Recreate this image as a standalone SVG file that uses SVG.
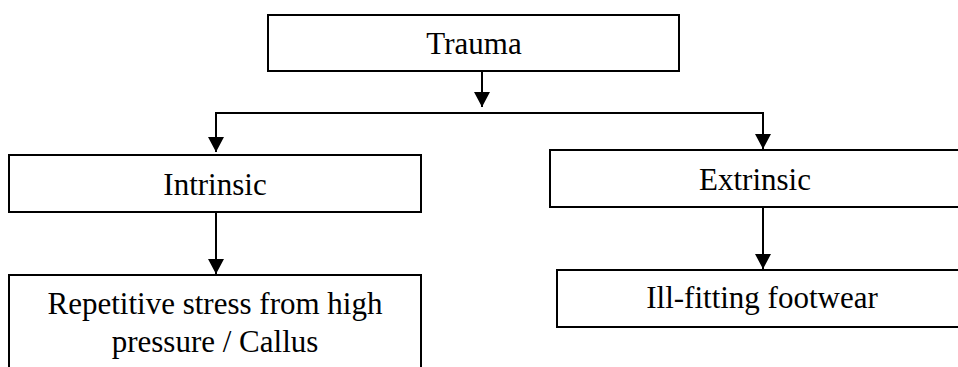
<svg xmlns="http://www.w3.org/2000/svg" width="958" height="367" viewBox="0 0 958 367">
  <style>
    .box { fill: #ffffff; stroke: #000000; stroke-width: 2; }
    .label { font-family: "Liberation Serif", "Times New Roman", serif; font-size: 31px; fill: #000000; text-anchor: middle; }
    .wire { fill: none; stroke: #000000; stroke-width: 2; }
  </style>
  <defs>
    <marker id="arrow" markerUnits="userSpaceOnUse" markerWidth="16" markerHeight="16" viewBox="0 0 16 16" refX="15" refY="8" orient="auto">
      <path d="M0,0 L15,8 L0,16 Z" fill="#000000"/>
    </marker>
  </defs>

  <rect width="958" height="367" fill="#ffffff"/>

  <g id="connectors">
    <line class="wire" x1="482" y1="71" x2="482" y2="107" marker-end="url(#arrow)"/>
    <polyline class="wire" points="216,151 216,113 763,113 763,148" />
    <line class="wire" x1="216" y1="113" x2="216" y2="152" marker-end="url(#arrow)"/>
    <line class="wire" x1="763" y1="113" x2="763" y2="149" marker-end="url(#arrow)"/>
    <line class="wire" x1="216" y1="212" x2="216" y2="274" marker-end="url(#arrow)"/>
    <line class="wire" x1="763" y1="207" x2="763" y2="269" marker-end="url(#arrow)"/>
  </g>

  <g id="trauma">
    <rect class="box" x="268" y="15" width="411" height="56"/>
    <text class="label" x="474" y="54">Trauma</text>
  </g>

  <g id="intrinsic">
    <rect class="box" x="9" y="155" width="412" height="57"/>
    <text class="label" x="215" y="195">Intrinsic</text>
  </g>

  <g id="extrinsic">
    <rect class="box" x="550" y="150" width="420" height="57"/>
    <text class="label" x="755" y="190">Extrinsic</text>
  </g>

  <g id="repetitive-stress">
    <rect class="box" x="9" y="275" width="412" height="110"/>
    <text class="label" x="215" y="314">Repetitive stress from high</text>
    <text class="label" x="215" y="352">pressure / Callus</text>
  </g>

  <g id="ill-fitting-footwear">
    <rect class="box" x="557" y="270" width="420" height="57"/>
    <text class="label" x="762" y="308">Ill-fitting footwear</text>
  </g>
</svg>
